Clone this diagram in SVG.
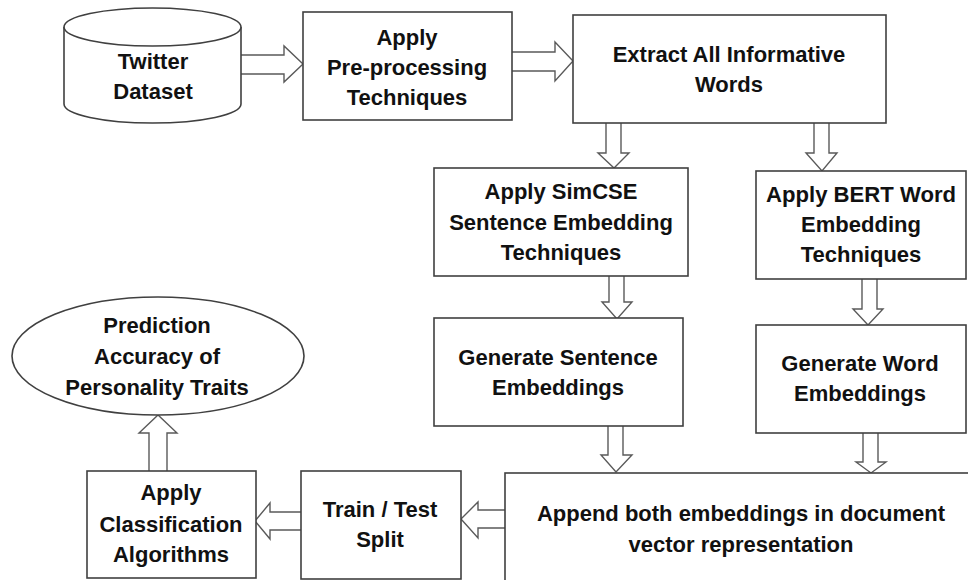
<svg xmlns="http://www.w3.org/2000/svg" width="968" height="580" viewBox="0 0 968 580">
  <style>
    .box { fill: #ffffff; stroke: #404040; stroke-width: 1.6; }
    .arr { fill: #ffffff; stroke: #5a5a5a; stroke-width: 1.4; stroke-linejoin: miter; }
    text { font-family: "Liberation Sans", Arial, sans-serif; font-weight: bold; font-size: 22px; fill: #111111; text-anchor: middle; }
  </style>
  <rect width="968" height="580" fill="#ffffff"/>

  <g id="connectors">
    <path class="arr" d="M241,55 L284,55 L284,46 L303,64 L284,82 L284,74 L241,74"/>
    <path class="arr" d="M512,52 L555,52 L555,42 L573,61 L555,81 L555,71 L512,71"/>
    <path class="arr" d="M606,123 L606,153 L598,153 L614,168 L629,153 L621,153 L621,123"/>
    <path class="arr" d="M814,123 L814,153 L806,153 L822,171 L837,153 L829,153 L829,123"/>
    <path class="arr" d="M609,276 L609,302 L602,302 L617,319 L632,302 L624,302 L624,276"/>
    <path class="arr" d="M862,279 L862,309 L853,309 L868,325 L883,309 L877,309 L877,279"/>
    <path class="arr" d="M608,426 L608,455 L601,455 L616,472 L632,455 L623,455 L623,426"/>
    <path class="arr" d="M863,433 L863,462 L856,462 L871,473 L886,462 L878,462 L878,433"/>
    <path class="arr" d="M505,510 L478,510 L478,502 L461,519 L478,538 L478,528 L505,528"/>
    <path class="arr" d="M301,512 L270,512 L270,503 L255,521 L270,539 L270,530 L301,530"/>
    <path class="arr" d="M149,471 L149,433 L139,433 L158,415 L177,433 L167,433 L167,471"/>
  </g>

  <g id="twitter-dataset">
    <path class="box" d="M64,27 L64,104 A88.5,19 0 0 0 241,104 L241,27"/>
    <ellipse class="box" cx="152.5" cy="27" rx="88.5" ry="19"/>
    <text x="153" y="69">Twitter</text>
    <text x="153" y="99">Dataset</text>
  </g>

  <g id="preprocessing">
    <rect class="box" x="303" y="12" width="209" height="108"/>
    <text x="407" y="45">Apply</text>
    <text x="407" y="75">Pre-processing</text>
    <text x="407" y="105">Techniques</text>
  </g>

  <g id="extract-words">
    <rect class="box" x="573" y="15" width="313" height="108"/>
    <text x="729" y="62">Extract All Informative</text>
    <text x="729" y="92">Words</text>
  </g>

  <g id="simcse">
    <rect class="box" x="434" y="168" width="254" height="108"/>
    <text x="561" y="199">Apply SimCSE</text>
    <text x="561" y="230">Sentence Embedding</text>
    <text x="561" y="260">Techniques</text>
  </g>

  <g id="bert">
    <rect class="box" x="756" y="171" width="210" height="108"/>
    <text x="861" y="202" textLength="190" lengthAdjust="spacingAndGlyphs">Apply BERT Word</text>
    <text x="861" y="232">Embedding</text>
    <text x="861" y="262">Techniques</text>
  </g>

  <g id="sentence-embeddings">
    <rect class="box" x="434" y="318" width="249" height="108"/>
    <text x="558" y="365">Generate Sentence</text>
    <text x="558" y="395">Embeddings</text>
  </g>

  <g id="word-embeddings">
    <rect class="box" x="756" y="325" width="210" height="108"/>
    <text x="860" y="371">Generate Word</text>
    <text x="860" y="401">Embeddings</text>
  </g>

  <g id="append">
    <rect class="box" x="505" y="473" width="480" height="130"/>
    <text x="741" y="521">Append both embeddings in document</text>
    <text x="741" y="552">vector representation</text>
  </g>

  <g id="train-test">
    <rect class="box" x="301" y="471" width="160" height="108"/>
    <text x="380" y="517">Train / Test</text>
    <text x="380" y="547">Split</text>
  </g>

  <g id="classification">
    <rect class="box" x="87" y="471" width="169" height="107"/>
    <text x="171" y="500">Apply</text>
    <text x="171" y="532">Classification</text>
    <text x="171" y="562">Algorithms</text>
  </g>

  <g id="prediction">
    <ellipse class="box" cx="158" cy="356" rx="146" ry="59"/>
    <text x="157" y="333">Prediction</text>
    <text x="157" y="364">Accuracy of</text>
    <text x="157" y="395">Personality Traits</text>
  </g>
</svg>
